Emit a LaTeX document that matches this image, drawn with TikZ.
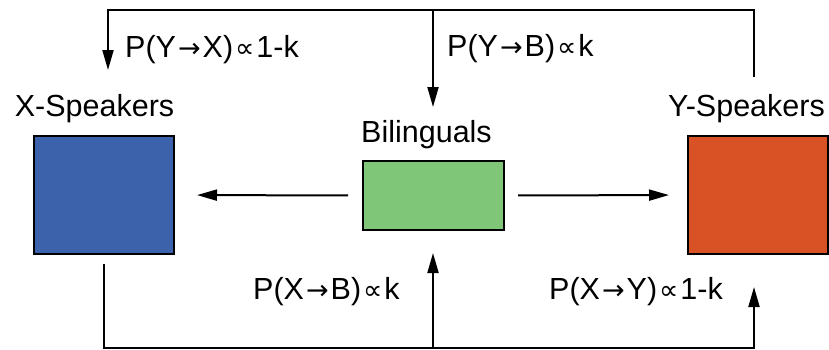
\documentclass[tikz,border=0pt]{standalone}
\usepackage{fontspec}
\setmainfont{Liberation Sans}
\newfontfamily\symfam{DejaVu Sans}
\usetikzlibrary{arrows.meta}
\definecolor{xblue}{RGB}{60,98,172}
\definecolor{bgreen}{RGB}{128,198,120}
\definecolor{yred}{RGB}{217,82,38}
\newcommand{\rarr}{\hspace{2pt}{\symfam\fontsize{27}{30}\selectfont →}\hspace{2pt}}
\newcommand{\prop}{\hspace{2pt}{\symfam\fontsize{27}{30}\selectfont ∝}\hspace{2pt}}
\begin{document}
\begin{tikzpicture}[x=1pt,y=-1pt,
  box/.style={draw=black,line width=2pt,minimum width=140pt,inner sep=0pt,outer sep=0pt},
  lbl/.style={font=\fontsize{30.5}{36}\selectfont,inner sep=0pt,anchor=base},
  plbl/.style={font=\fontsize{30.5}{36}\selectfont,inner sep=0pt,anchor=base west},
  conn/.style={line width=2pt,line join=miter},
  arr/.style={conn,-{Triangle[length=20pt,width=11pt]}}]
\useasboundingbox (0,0) rectangle (829,349);
\node[box,fill=xblue,minimum height=118pt] (xbox) at (104,195) {};
\node[box,fill=bgreen,minimum width=141pt,minimum height=69pt] (bbox) at (433.5,195.5) {};
\node[box,fill=yred,minimum height=118pt] (ybox) at (758,195) {};
\node[lbl] (xlab) at (94.5,116) {X-Speakers};
\node[lbl] (blab) at (426.5,142) {Bilinguals};
\node[lbl] (ylab) at (746.5,116) {Y-Speakers};
\node[plbl] (pyx) at (125,57) {P(Y\rarr X)\prop 1-k};
\node[plbl] (pyb) at (447,56) {P(Y\rarr B)\prop k};
\node[plbl] (pxb) at (253,299) {P(X\rarr B)\prop k};
\node[plbl] (pxy) at (549,299) {P(X\rarr Y)\prop 1-k};
% top connector
\coordinate (ys) at (754,77);
\coordinate (topj) at (433,10);
\coordinate (xe) at (108,70);
\coordinate (be) at (433,107);
\draw[conn] (ys) |- (topj);
\draw[arr] (topj) -| (xe);
\draw[arr] (topj) -- (be);
% bottom connector
\coordinate (xs) at (104,264);
\coordinate (botj) at (433,348);
\coordinate (bbe) at (433,253);
\coordinate (ye) at (754,287);
\draw[conn] (xs) |- (botj);
\draw[arr] (botj) -| (ye);
\draw[arr] (botj) -- (bbe);
% horizontal
\draw[arr,shorten <=15pt,shorten >=23pt] (bbox.west) -- (xbox.east);
\draw[arr,shorten <=14pt,shorten >=19pt] (bbox.east) -- (ybox.west);
\end{tikzpicture}
\end{document}
